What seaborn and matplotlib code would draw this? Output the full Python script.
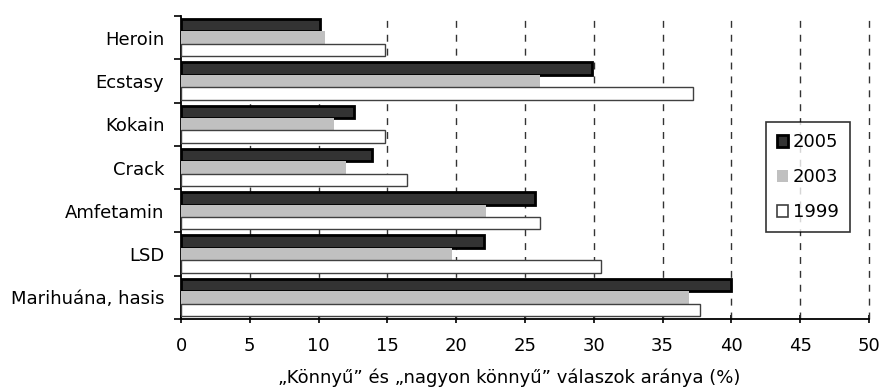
import matplotlib
matplotlib.use("Agg")
import matplotlib.pyplot as plt
from matplotlib.patches import Patch
import seaborn as sns
import pandas as pd
import numpy as np

categories = ["Heroin", "Ecstasy", "Kokain", "Crack", "Amfetamin", "LSD", "Marihuána, hasis"]
years = ["2005", "2003", "1999"]
v2005 = [10.1, 29.9, 12.6, 13.9, 25.7, 22.0, 40.0]
v2003 = [10.5, 26.1, 11.1, 12.0, 22.2, 19.7, 36.9]
v1999 = [14.8, 37.2, 14.8, 16.4, 26.1, 30.5, 37.7]
xticks = [0, 5, 10, 15, 20, 25, 30, 35, 40, 45, 50]
xlabel = "„Könnyű” és „nagyon könnyű” válaszok aránya (%)"

sns.set_style("white")
plt.rcParams["font.family"] = ["DejaVu Sans"]
plt.rcParams["text.color"] = "black"
plt.rcParams["axes.labelcolor"] = "black"
plt.rcParams["xtick.color"] = "black"
plt.rcParams["ytick.color"] = "black"
FS = 13

df = pd.DataFrame({
    "cat": categories * 3,
    "year": [years[0]] * 7 + [years[1]] * 7 + [years[2]] * 7,
    "val": v2005 + v2003 + v1999,
})

fills = {"2005": "#333333", "2003": "#c0c0c0", "1999": "#ffffff"}
edges = {"2005": "#000000", "2003": "#c0c0c0", "1999": "#404040"}
lws = {"2005": 2.0, "2003": 0.0, "1999": 1.0}

fig = plt.figure(figsize=(8.8, 3.87), dpi=100)
ax = fig.add_axes([181 / 880, 1 - 319 / 387, 688 / 880, 303 / 387])

sns.barplot(data=df, x="val", y="cat", hue="year", order=categories,
            hue_order=years, palette=fills, orient="h", width=0.86,
            legend=False, ax=ax, zorder=3)

for cont, yr in zip(ax.containers, years):
    for b in cont:
        b.set_edgecolor(edges[yr])
        b.set_linewidth(lws[yr])
        b.set_zorder(3)

ax.set_xlim(0, 50)
ax.set_ylim(6.5, -0.5)
ax.set_xticks(xticks)
ax.set_xticklabels([str(t) for t in xticks], fontsize=FS, color="black")
for t in xticks[1:]:
    ax.axvline(t, color="#333333", lw=1.0, ls=(0, (5, 5)), zorder=1, clip_on=False)

ax.set_yticks(range(len(categories)))
ax.set_yticklabels(categories, fontsize=FS, color="black")
ax.set_yticks(np.arange(-0.5, 7.0, 1.0), minor=True)
ax.tick_params(axis="y", which="major", length=0, pad=12)
ax.tick_params(axis="y", which="minor", length=5, width=1.2, color="black", direction="out", left=True)
ax.tick_params(axis="x", which="major", length=6, width=1.2, direction="inout", bottom=True, pad=10)

for s in ["top", "right"]:
    ax.spines[s].set_visible(False)
for s in ["left", "bottom"]:
    ax.spines[s].set_color("black")
    ax.spines[s].set_linewidth(1.3)

ax.set_xlabel(xlabel, fontsize=FS, labelpad=10, x=0.477, color="black")
ax.set_ylabel("")

handles = [Patch(facecolor=fills[y], edgecolor=edges[y], linewidth=lws[y] if y != "1999" else 1.2) for y in years]
leg = ax.legend(handles, years, loc="upper left", bbox_to_anchor=(0.850, 0.65),
                borderaxespad=0, frameon=True, fancybox=False, fontsize=FS,
                handlelength=0.65, handleheight=0.65, handletextpad=0.25,
                labelspacing=0.95, borderpad=0.6)
leg.get_frame().set_edgecolor("black")
leg.get_frame().set_linewidth(1.2)
leg.set_zorder(5)
for txt in leg.get_texts():
    txt.set_color("black")

fig.savefig("out.png", dpi=100)
